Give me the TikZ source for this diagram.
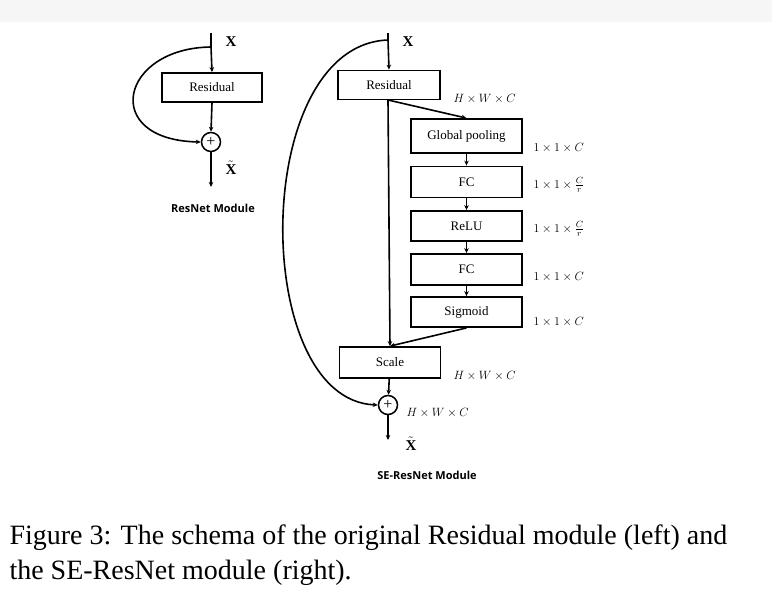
\documentclass[tikz,border=0pt]{standalone}
\usepackage{fontspec}
\setmainfont{Liberation Serif}
\newfontfamily\sansf{Open Sans}
\usetikzlibrary{arrows.meta}
\begin{document}
\begin{tikzpicture}[x=1pt,y=-1pt,
 box/.style={draw,line width=1.8pt,inner sep=0pt,font=\fontsize{13}{13}\selectfont},
 ln/.style={line width=1.6pt},
 ar/.style={line width=1.6pt,-{Stealth[length=5pt,width=4.5pt]}},
 dim/.style={font=\fontsize{13}{13}\selectfont,anchor=west},
 sumc/.style={draw,circle,line width=1.5pt,minimum size=19pt,inner sep=0pt,font=\fontsize{16}{16}\selectfont},
 mod/.style={font=\sansf\bfseries\fontsize{11}{11}\selectfont}]
\useasboundingbox (0,0) rectangle (772,594);
\fill[gray!7] (0,0) rectangle (772,22);
% left
\coordinate (lt) at (211,33);
\coordinate (lb) at (211,47);
\node[box,minimum width=100pt,minimum height=29pt] (lr) at (212,87.5) {Residual};
\node[sumc] (ls) at (211,142) {+};
\coordinate (le) at (211,187);
\draw[ln] (lt) -- (lb);
\draw[ar] (lb) -- (lr.north);
\draw[ar] (lr.south) -- (ls.north);
\draw[ar] (ls.south) -- (le);
\draw[ar] (lb) .. controls (120,48) and (100,140) .. (ls.west);
\node[font=\bfseries\fontsize{15}{15}\selectfont] (lx) at (231,42) {X};
\node[font=\fontsize{15}{15}\selectfont,inner sep=1pt] (lxt) at (231,168) {$\tilde{\mathbf{X}}$};
\node[mod] (lm) at (213,208) {ResNet Module};
% right
\coordinate (rt) at (388,33);
\coordinate (rb) at (388,40);
\node[box,minimum width=102pt,minimum height=29pt] (rr) at (389,85) {Residual};
\node[box,minimum width=111pt,minimum height=34pt] (g) at (466.5,136) {Global pooling};
\node[box,minimum width=111pt,minimum height=31pt] (f1) at (466.5,182) {FC};
\node[box,minimum width=111pt,minimum height=30pt] (re) at (466.5,226) {ReLU};
\node[box,minimum width=111pt,minimum height=31pt] (f2) at (466.5,269.5) {FC};
\node[box,minimum width=111pt,minimum height=30pt] (sg) at (466.5,312) {Sigmoid};
\node[box,minimum width=101pt,minimum height=31pt] (sc) at (390,362.5) {Scale};
\node[sumc] (rs) at (388,405) {+};
\coordinate (re2) at (388,440);
\coordinate (rj) at (388,100);
\draw[ln] (rt) -- (rb);
\draw[ar] (rb) -- (rr.north);
\draw[ar] (rj) -- (sc.north);
\draw[ar] (rj) -- (g.north);
\draw[ar] (g) -- (f1);
\draw[ar] (f1) -- (re);
\draw[ar] (re) -- (f2);
\draw[ar] (f2) -- (sg);
\draw[ar] (sg.south) -- (sc.north);
\draw[ar] (sc) -- (rs);
\draw[ar] (rs.south) -- (re2);
\draw[ar] (rb) .. controls (250,45) and (250,400) .. (rs.west);
\node[font=\bfseries\fontsize{15}{15}\selectfont] (rx) at (408,42) {X};
\node[font=\fontsize{15}{15}\selectfont,inner sep=1pt] (rxt) at (411,444) {$\tilde{\mathbf{X}}$};
\node[mod] (rm) at (427,475) {SE-ResNet Module};
\node[dim] (d0) at (450,99) {$H\times W\times C$};
\node[dim] (d1) at (530,148) {$1\times 1\times C$};
\node[dim] (d2) at (530,185) {$1\times 1\times \frac{C}{r}$};
\node[dim] (d3) at (530,229) {$1\times 1\times \frac{C}{r}$};
\node[dim] (d4) at (530,277) {$1\times 1\times C$};
\node[dim] (d5) at (530,322) {$1\times 1\times C$};
\node[dim] (d6) at (450,376) {$H\times W\times C$};
\node[dim] (d7) at (403,413) {$H\times W\times C$};
% caption
\node[anchor=west,font=\fontsize{28}{28}\selectfont] (c1) at (6,538) {Figure 3: The schema of the original Residual module (left) and};
\node[anchor=west,font=\fontsize{28}{28}\selectfont] (c2) at (6,573) {the SE-ResNet module (right).};
\end{tikzpicture}
\end{document}
